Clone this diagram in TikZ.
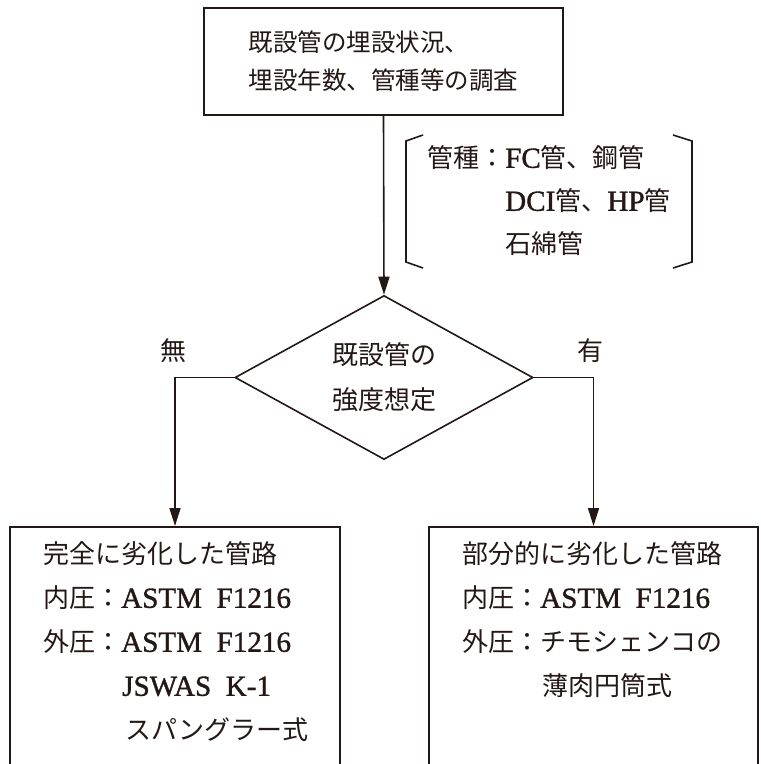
\documentclass[tikz,border=0pt]{standalone}
\usepackage{fontspec}
\setmainfont{Noto Sans CJK JP}
\newfontfamily\latin[Scale=1.12,FakeBold=1.2]{Liberation Serif}
\usetikzlibrary{arrows.meta,shapes.geometric}
\definecolor{ink}{HTML}{231815}
\begin{document}
\begin{tikzpicture}[x=1pt,y=-1pt,
  every node/.style={inner sep=0pt, text=ink},
  txt/.style={anchor=west, font=\fontsize{26}{26}\selectfont, text height=0.88em, text depth=0.12em},
  frame/.style={draw=ink, line width=1.6pt, rectangle, inner sep=0pt},
  arr/.style={draw=ink, line width=1.6pt, -{Triangle[length=18pt,width=11pt]}},
  brk/.style={draw=ink, line width=1.6pt},
]
\useasboundingbox (0,0) rectangle (761,764);

% top box
\node[frame, minimum width=359pt, minimum height=107pt, align=left,
      font=\fontsize{24.5}{38}\selectfont] (survey) at (383.5,61.5)
      {既設管の埋設状況、\\埋設年数、管種等の調査};

% bracket note
\coordinate (bl1) at (423,135); \coordinate (bl2) at (406,141);
\coordinate (bl3) at (406,262); \coordinate (bl4) at (423,268);
\coordinate (br1) at (673,135); \coordinate (br2) at (692,141);
\coordinate (br3) at (692,262); \coordinate (br4) at (673,268);
\draw[brk] (bl1) -- (bl2) -- (bl3) -- (bl4);
\draw[brk] (br1) -- (br2) -- (br3) -- (br4);
\node[txt] (k1) at (427,164) {管種：{\latin FC}管、鋼管};
\node[txt] (k2) at (505,207) {{\latin DCI}管、{\latin HP}管};
\node[txt] (k3) at (505,250) {石綿管};

% decision
\node[draw=ink, diamond, line width=1.6pt, aspect=1.817, minimum width=298pt,
      minimum height=164pt, inner sep=0pt, align=center,
      font=\fontsize{26}{45}\selectfont] (judge) at (384,377.5)
      {\raisebox{-4pt}{既設管の}\\\raisebox{-4pt}{強度想定}};

\node[font=\fontsize{26}{26}\selectfont] (no) at (173,351) {無};
\node[font=\fontsize{26}{26}\selectfont] (yes) at (590,351) {有};

% result boxes
\node[frame, anchor=north, minimum width=330pt, minimum height=260pt] (full) at (175,526) {};
\node[frame, anchor=north, minimum width=329pt, minimum height=260pt] (part) at (593.5,526) {};

\node[txt] (l1) at (43,560) {完全に劣化した管路};
\node[txt] (l2) at (43,604) {内圧：{\latin ASTM\ \ F1216}};
\node[txt] (l3) at (43,648) {外圧：{\latin ASTM\ \ F1216}};
\node[txt] (l4) at (122,692) {{\latin JSWAS\ \ K-1}};
\node[txt] (l5) at (125,736) {スパングラー式};

\node[txt] (r1) at (462,560) {部分的に劣化した管路};
\node[txt] (r2) at (462,604) {内圧：{\latin ASTM\ \ F1216}};
\node[txt] (r3) at (462,648) {外圧：チモシェンコの};
\node[txt] (r4) at (542,692) {薄肉円筒式};

% connectors
\draw[arr] (survey.south) -- (judge.north);
\draw[arr] (judge.west) -| (full.north);
\draw[arr] (judge.east) -| (part.north);
\end{tikzpicture}
\end{document}
